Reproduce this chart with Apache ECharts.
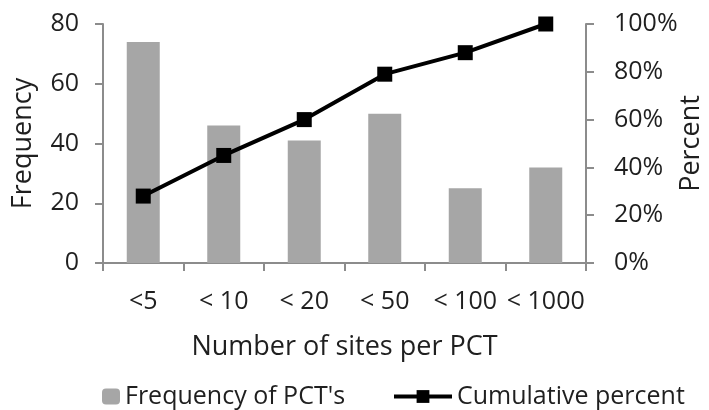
<!DOCTYPE html>
<html>
<head>
<meta charset="utf-8">
<script src="https://cdn.jsdelivr.net/npm/echarts@6/dist/echarts.min.js"></script>
<style>
html,body{margin:0;padding:0;background:#fff;}
#chart{width:709px;height:410px;}
</style>
</head>
<body>
<div id="chart"></div>
<script>
// Site-count bins
const categories = ['<5', '< 10', '< 20', '< 50', '< 100', '< 1000'];
// Number of PCTs in each bin
const frequency = [74, 46, 41, 50, 25, 32];
// Running share of all PCTs, in percent
const cumulativePercent = [28, 45, 60, 79, 88, 100];
const freqTicks = [0, 20, 40, 60, 80];
const pctTicks = [0, 20, 40, 60, 80, 100];

const FONT = 'Open Sans';
const TEXT = '#1f1f1f';
const AXIS = '#8c8c8c';

const chart = echarts.init(document.getElementById('chart'), null, {renderer: 'canvas'});
chart.setOption({
  animation: false,
  textStyle: {fontFamily: FONT, color: TEXT},
  grid: {left: 103, right: 123, top: 24, bottom: 147, containLabel: false, outerBoundsMode: 'none'},
  legend: [
    {
      data: ["Frequency of PCT's"],
      left: 97, top: 379,
      itemWidth: 18, itemHeight: 16, itemGap: 7,
      textStyle: {fontFamily: FONT, fontSize: 25, color: TEXT}
    },
    {
      data: [{name: 'Cumulative percent', lineStyle: {width: 4}}],
      left: 387, top: 379,
      itemWidth: 58, itemHeight: 16, itemGap: 7,
      textStyle: {fontFamily: FONT, fontSize: 25, color: TEXT}
    }
  ],
  xAxis: {
    type: 'category',
    data: categories,
    name: 'Number of sites per PCT',
    nameLocation: 'middle',
    nameGap: 71,
    nameMoveOverlap: false,
    nameTextStyle: {fontFamily: FONT, fontSize: 27, color: TEXT},
    axisLine: {lineStyle: {color: AXIS, width: 2}},
    axisTick: {show: true, length: 8, lineStyle: {color: AXIS, width: 2}},
    axisLabel: {fontFamily: FONT, fontSize: 25, color: TEXT, margin: 26, interval: 0}
  },
  yAxis: [
    {
      type: 'value', min: freqTicks[0], max: freqTicks[freqTicks.length - 1], interval: 20,
      name: 'Frequency', nameLocation: 'middle', nameGap: 66, nameRotate: 90,
      nameMoveOverlap: false,
      nameTextStyle: {fontFamily: FONT, fontSize: 27, color: TEXT},
      axisLine: {show: true, lineStyle: {color: AXIS, width: 2}},
      axisTick: {show: true, length: 8, lineStyle: {color: AXIS, width: 2}},
      axisLabel: {fontFamily: FONT, fontSize: 25, color: TEXT, margin: 24},
      splitLine: {show: false}
    },
    {
      type: 'value', min: pctTicks[0], max: pctTicks[pctTicks.length - 1], interval: 20,
      name: 'Percent', nameLocation: 'middle', nameGap: 92, nameRotate: 90,
      nameMoveOverlap: false,
      nameTextStyle: {fontFamily: FONT, fontSize: 27, color: TEXT},
      position: 'right',
      axisLine: {show: true, lineStyle: {color: AXIS, width: 2}},
      axisTick: {show: true, length: 8, lineStyle: {color: AXIS, width: 2}},
      axisLabel: {fontFamily: FONT, fontSize: 25, color: TEXT, margin: 28, formatter: '{value}%'},
      splitLine: {show: false}
    }
  ],
  series: [
    {
      name: "Frequency of PCT's",
      type: 'bar',
      data: frequency,
      yAxisIndex: 0,
      barWidth: 33,
      itemStyle: {color: '#a6a6a6'}
    },
    {
      name: 'Cumulative percent',
      type: 'line',
      data: cumulativePercent,
      yAxisIndex: 1,
      symbol: 'rect',
      symbolSize: 15,
      lineStyle: {color: '#000', width: 4},
      itemStyle: {color: '#000'}
    }
  ]
});
</script>
</body>
</html>
